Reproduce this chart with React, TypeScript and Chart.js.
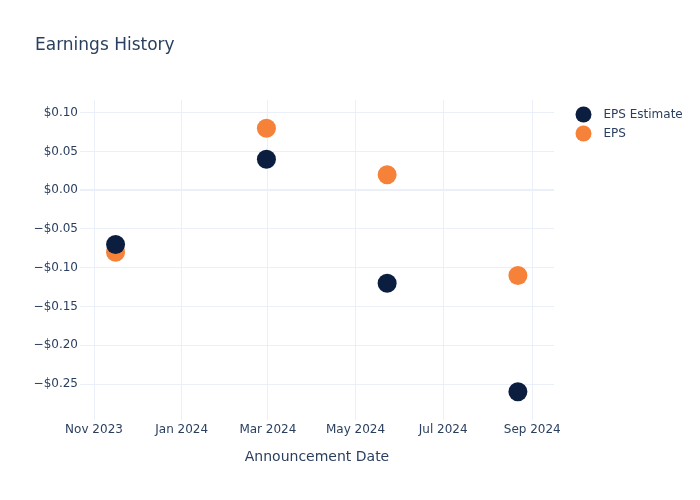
import React, { useEffect, useRef } from "react";
import { Chart, registerables } from "chart.js";

Chart.register(...registerables);

const announcementDates = ["2023-11-16", "2024-02-29", "2024-05-23", "2024-08-22"];
const epsEstimate = [-0.07, 0.04, -0.12, -0.26];
const eps = [-0.08, 0.08, 0.02, -0.11];
const xTickDates = ["2023-11-01", "2024-01-01", "2024-03-01", "2024-05-01", "2024-07-01", "2024-09-01"];
const yTickValues = [0.1, 0.05, 0, -0.05, -0.1, -0.15, -0.2, -0.25];
const xRange = ["2023-10-22T06:00:00Z", "2024-09-16T03:00:00Z"];
const yRange = [-0.2964, 0.1164];

const MONTHS = ["Jan", "Feb", "Mar", "Apr", "May", "Jun", "Jul", "Aug", "Sep", "Oct", "Nov", "Dec"];
const toTs = (s: string) => Date.parse(s.length === 10 ? s + "T00:00:00Z" : s);

const TEXT = "#2a3f5f";
const GRID = "#ebf0f8";
const NAVY = "#0b1e40";
const ORANGE = "#f6823a";
const FONT = "DejaVu Sans";

const fmtMoney = (v: number) => {
  const r = Math.round(v * 100) / 100;
  const s = "$" + Math.abs(r).toFixed(2);
  return r < 0 ? "\u2212" + s : s;
};

const overlay = {
  id: "overlay",
  afterDraw(chart: any) {
    const ctx = chart.ctx;
    const area = chart.chartArea;
    ctx.save();
    ctx.fillStyle = TEXT;
    ctx.textBaseline = "alphabetic";
    ctx.textAlign = "left";
    ctx.font = `17px "${FONT}"`;
    ctx.fillText("Earnings History", 35, 50);
    ctx.font = `14px "${FONT}"`;
    ctx.textAlign = "center";
    ctx.fillText("Announcement Date", (area.left + area.right) / 2, 461);
    const items = [
      { label: "EPS Estimate", color: NAVY },
      { label: "EPS", color: ORANGE },
    ];
    items.forEach((it, i) => {
      const y = 114.5 + i * 19;
      ctx.beginPath();
      ctx.fillStyle = it.color;
      ctx.arc(583.5, y, 8, 0, Math.PI * 2);
      ctx.fill();
      ctx.fillStyle = TEXT;
      ctx.font = `12px "${FONT}"`;
      ctx.textAlign = "left";
      ctx.textBaseline = "middle";
      ctx.fillText(it.label, 603.5, y);
    });
    ctx.restore();
  },
};

export default function App() {
  const ref = useRef<HTMLCanvasElement | null>(null);
  useEffect(() => {
    document.body.style.margin = "0";
    const canvas = ref.current;
    if (!canvas) return;
    const chart = new Chart(canvas, {
      type: "scatter",
      data: {
        datasets: [
          {
            label: "EPS Estimate",
            data: announcementDates.map((d, i) => ({ x: toTs(d), y: epsEstimate[i] })),
            backgroundColor: NAVY,
            borderColor: NAVY,
            borderWidth: 0,
            pointRadius: 9.5,
            pointHoverRadius: 9.5,
          },
          {
            label: "EPS",
            data: announcementDates.map((d, i) => ({ x: toTs(d), y: eps[i] })),
            backgroundColor: ORANGE,
            borderColor: ORANGE,
            borderWidth: 0,
            pointRadius: 9.5,
            pointHoverRadius: 9.5,
          },
        ],
      },
      options: {
        responsive: false,
        animation: false,
        layout: { padding: { top: 100, right: 146, bottom: 0, left: 0 } },
        plugins: {
          legend: { display: false },
          title: { display: false },
          tooltip: { enabled: false },
        },
        scales: {
          x: {
            type: "linear",
            min: toTs(xRange[0]),
            max: toTs(xRange[1]),
            afterFit: (s: any) => {
              s.height = 80;
            },
            afterBuildTicks: (s: any) => {
              s.ticks = xTickDates.map((d) => ({ value: toTs(d) }));
            },
            border: { display: false },
            grid: { color: GRID, lineWidth: 1, drawTicks: false },
            ticks: {
              padding: 3,
              color: TEXT,
              font: { family: FONT, size: 12 },
              maxRotation: 0,
              autoSkip: false,
              callback: (v: any) => {
                const d = new Date(Number(v));
                return MONTHS[d.getUTCMonth()] + " " + d.getUTCFullYear();
              },
            },
          },
          y: {
            min: yRange[0],
            max: yRange[1],
            afterFit: (s: any) => {
              s.width = 80;
            },
            afterBuildTicks: (s: any) => {
              s.ticks = yTickValues.map((v) => ({ value: v }));
            },
            border: { display: false },
            grid: {
              color: GRID,
              lineWidth: (c: any) => (c.tick && Math.abs(c.tick.value) < 1e-9 ? 2 : 1),
              drawTicks: false,
            },
            ticks: {
              padding: 2,
              color: TEXT,
              font: { family: FONT, size: 12 },
              autoSkip: false,
              callback: (v: any) => fmtMoney(Number(v)),
            },
          },
        },
      },
      plugins: [overlay],
    } as any);
    return () => chart.destroy();
  }, []);
  return (
    <div style={{ width: 700, height: 500, background: "#fff" }}>
      <canvas ref={ref} width={700} height={500} style={{ display: "block" }} />
    </div>
  );
}
